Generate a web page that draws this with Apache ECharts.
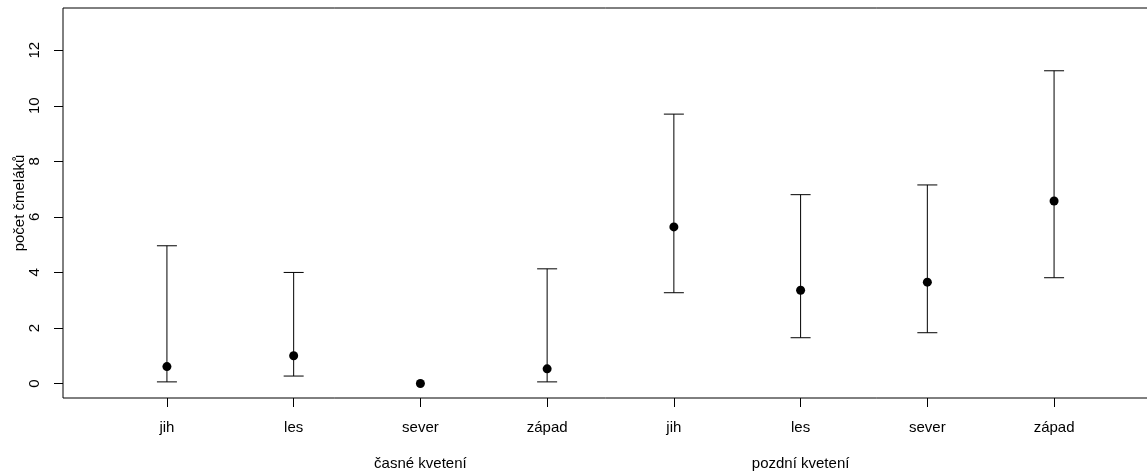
<!DOCTYPE html>
<html>
<head>
<meta charset="utf-8">
<script src="https://cdn.jsdelivr.net/npm/echarts@6/dist/echarts.min.js"></script>
<style>
html,body{margin:0;padding:0;background:#fff;}
#chart{width:1147px;height:472px;}
</style>
</head>
<body>
<div id="chart"></div>
<script>
const categories = ['jih', 'les', 'sever', 'západ', 'jih', 'les', 'sever', 'západ'];
const groups = ['časné kvetení', 'pozdní kvetení'];
const groupPositions = [3, 6];
const means = [0.61, 1.00, 0.00, 0.53, 5.64, 3.36, 3.65, 6.57];
const lower = [0.06, 0.27, 0.00, 0.06, 3.27, 1.65, 1.83, 3.81];
const upper = [4.96, 4.00, 0.00, 4.13, 9.70, 6.80, 7.15, 11.26];
const yTicks = [0, 2, 4, 6, 8, 10, 12];
const yTitle = 'počet čmeláků';

const positions = categories.map((c, i) => i + 1);
const font = "'Liberation Sans', Arial, sans-serif";

const chart = echarts.init(document.getElementById('chart'), null, {renderer: 'canvas'});

const option = {
  animation: false,
  backgroundColor: '#fff',
  grid: {
    left: 63, top: 8, width: 1095, height: 390,
    containLabel: false, outerBoundsMode: 'none',
    show: true, borderColor: '#000', borderWidth: 1, backgroundColor: 'transparent'
  },
  xAxis: [
    {
      type: 'value', min: 0.18, max: 8.82,
      axisLine: {show: false, onZero: false},
      splitLine: {show: false},
      axisTick: {show: true, customValues: positions, length: 9, lineStyle: {color: '#000', width: 1}},
      axisLabel: {
        customValues: positions, margin: 22,
        color: '#000', fontSize: 15, fontFamily: font,
        formatter: v => categories[Math.round(v) - 1] || ''
      }
    },
    {
      type: 'value', min: 0.18, max: 8.82, position: 'bottom',
      axisLine: {show: false, onZero: false},
      splitLine: {show: false},
      axisTick: {show: false},
      axisLabel: {
        customValues: groupPositions, margin: 58,
        color: '#000', fontSize: 15, fontFamily: font,
        formatter: v => groups[groupPositions.indexOf(Math.round(v))] || ''
      }
    }
  ],
  yAxis: {
    type: 'value', min: -0.52, max: 13.52,
    axisLine: {show: false, onZero: false},
    splitLine: {show: false},
    axisTick: {show: true, customValues: yTicks, length: 9, lineStyle: {color: '#000', width: 1}},
    axisLabel: {
      customValues: yTicks, rotate: 90, margin: 21,
      color: '#000', fontSize: 15, fontFamily: font
    },
    name: yTitle, nameLocation: 'middle', nameRotate: 90, nameGap: 36,
    nameMoveOverlap: false,
    nameTextStyle: {color: '#000', fontSize: 15, fontFamily: font}
  },
  series: [
    {
      type: 'custom',
      xAxisIndex: 0,
      data: positions.map((p, i) => [p, lower[i], upper[i]]),
      renderItem: function (params, api) {
        const x = api.value(0), lo = api.value(1), hi = api.value(2);
        if (lo === hi) return null;
        const a = api.coord([x, lo]);
        const b = api.coord([x, hi]);
        const w = 10;
        const style = {stroke: '#000', lineWidth: 1};
        return {
          type: 'group',
          children: [
            {type: 'line', shape: {x1: a[0], y1: a[1], x2: b[0], y2: b[1]}, style},
            {type: 'line', shape: {x1: a[0] - w, y1: a[1], x2: a[0] + w, y2: a[1]}, style},
            {type: 'line', shape: {x1: b[0] - w, y1: b[1], x2: b[0] + w, y2: b[1]}, style}
          ]
        };
      },
      z: 2
    },
    {
      type: 'scatter',
      xAxisIndex: 0,
      data: positions.map((p, i) => [p, means[i]]),
      symbol: 'circle', symbolSize: 9,
      itemStyle: {color: '#000', opacity: 1},
      z: 3
    }
  ]
};
chart.setOption(option);
</script>
</body>
</html>
